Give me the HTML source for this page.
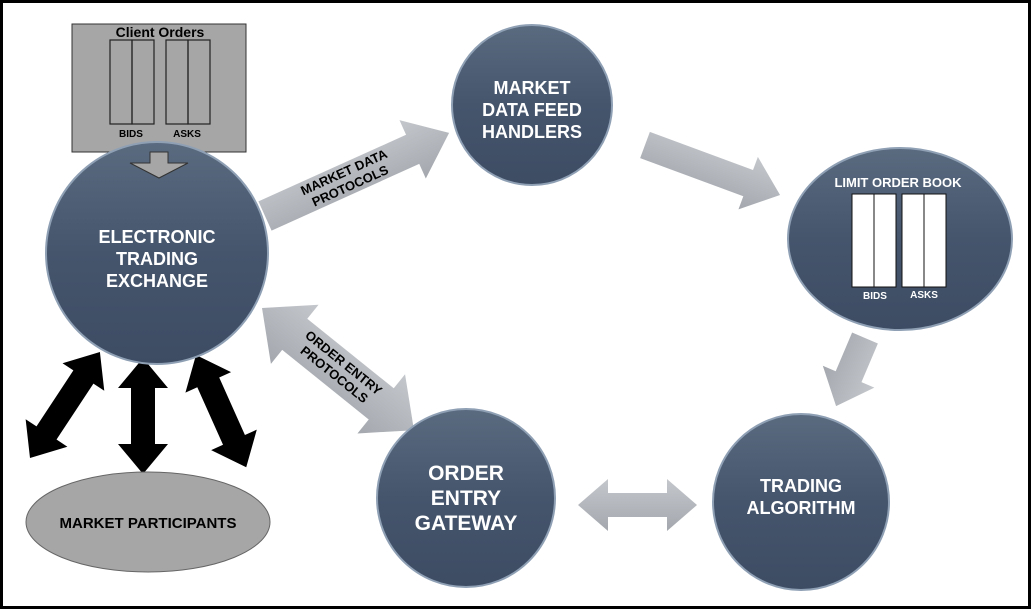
<!DOCTYPE html>
<html><head><meta charset="utf-8"><style>
html,body{margin:0;padding:0;background:#fff;}
svg{display:block;}
text{font-family:"Liberation Sans",sans-serif;font-weight:bold;}
</style></head><body>
<svg width="1035" height="612" viewBox="0 0 1035 612" xmlns="http://www.w3.org/2000/svg">
<defs>
<linearGradient id="cg" x1="0" y1="0" x2="0" y2="1">
<stop offset="0" stop-color="#5a6b80"/><stop offset="0.5" stop-color="#45556c"/><stop offset="1" stop-color="#3d4c63"/>
</linearGradient>
<linearGradient id="ag" x1="0" y1="0" x2="0" y2="1">
<stop offset="0" stop-color="#c4c7cc"/><stop offset="1" stop-color="#a4a8ae"/>
</linearGradient>
</defs>
<rect x="1.5" y="1.5" width="1028" height="606" fill="#fff" stroke="#000" stroke-width="3"/>

<!-- Client orders -->
<rect x="72" y="24" width="174" height="128" fill="#a6a6a6" stroke="#333" stroke-width="1"/>
<text x="160" y="37" font-size="14" text-anchor="middle" fill="#000">Client Orders</text>
<rect x="110" y="40" width="22" height="84" fill="none" stroke="#222" stroke-width="1.2"/>
<rect x="132" y="40" width="22" height="84" fill="none" stroke="#222" stroke-width="1.2"/>
<rect x="166" y="40" width="22" height="84" fill="none" stroke="#222" stroke-width="1.2"/>
<rect x="188" y="40" width="22" height="84" fill="none" stroke="#222" stroke-width="1.2"/>
<text x="131" y="137" font-size="10" text-anchor="middle">BIDS</text>
<text x="187" y="137" font-size="10" text-anchor="middle">ASKS</text>

<!-- Gray arrows -->
<g transform="translate(265,216) rotate(-24.3)"><path d="M0,-16 L162,-16 L162,-32 L202,0 L162,32 L162,16 L0,16 Z" fill="url(#ag)"/>
<text x="90" y="-3" font-size="13" text-anchor="middle">MARKET DATA</text>
<text x="90" y="12" font-size="13" text-anchor="middle">PROTOCOLS</text></g>
<g transform="translate(645,145) rotate(20.3)"><path d="M0,-14 L110,-14 L110,-28 L144,0 L110,28 L110,14 L0,14 Z" fill="url(#ag)"/></g>
<g transform="translate(865,338) rotate(113)"><path d="M0,-14 L42,-14 L42,-28 L74,0 L42,28 L42,14 L0,14 Z" fill="url(#ag)"/></g>
<g transform="translate(578,505)"><path d="M0,0 L30,-26 L30,-12 L89,-12 L89,-26 L119,0 L89,26 L89,12 L30,12 L30,26 Z" fill="url(#ag)"/></g>
<g transform="translate(262,308) rotate(38.8)"><path d="M0,0 L42,-38 L42,-20 L153,-20 L153,-38 L195,0 L153,38 L153,20 L42,20 L42,38 Z" fill="url(#ag)"/>
<text x="98" y="-4" font-size="13" text-anchor="middle">ORDER ENTRY</text>
<text x="98" y="11" font-size="13" text-anchor="middle">PROTOCOLS</text></g>

<!-- Black arrows -->
<g transform="translate(30,458) rotate(-56.6)"><path d="M0,0 L30,-25 L30,-12 L97,-12 L97,-25 L127,0 L97,25 L97,12 L30,12 L30,25 Z" fill="#000"/></g>
<g transform="translate(143,358) rotate(90)"><path d="M0,0 L30,-25 L30,-12 L86,-12 L86,-25 L116,0 L86,25 L86,12 L30,12 L30,25 Z" fill="#000"/></g>
<g transform="translate(196,355) rotate(65.9)"><path d="M0,0 L30,-25 L30,-12 L93,-12 L93,-25 L123,0 L93,25 L93,12 L30,12 L30,25 Z" fill="#000"/></g>

<!-- Circles -->
<circle cx="157" cy="253" r="111" fill="url(#cg)" stroke="#8fa0b5" stroke-width="2"/>
<text fill="#fff" font-size="18" text-anchor="middle"><tspan x="157" y="243">ELECTRONIC</tspan><tspan x="157" y="265">TRADING</tspan><tspan x="157" y="287">EXCHANGE</tspan></text>
<path d="M150,152 L168,152 L168,163 L188,163 L159,178 L130,163 L150,163 Z" fill="#a6a6a6" stroke="#333" stroke-width="1"/>

<circle cx="532" cy="105" r="80" fill="url(#cg)" stroke="#8fa0b5" stroke-width="2"/>
<text fill="#fff" font-size="18" text-anchor="middle"><tspan x="532" y="94">MARKET</tspan><tspan x="532" y="116">DATA FEED</tspan><tspan x="532" y="138">HANDLERS</tspan></text>

<ellipse cx="900" cy="239" rx="112" ry="91" fill="url(#cg)" stroke="#8fa0b5" stroke-width="2"/>
<text x="898" y="187" fill="#fff" font-size="13" text-anchor="middle">LIMIT ORDER BOOK</text>
<rect x="852" y="194" width="22" height="93" fill="#fff" stroke="#111" stroke-width="1"/>
<rect x="874" y="194" width="22" height="93" fill="#fff" stroke="#111" stroke-width="1"/>
<rect x="902" y="194" width="22" height="93" fill="#fff" stroke="#111" stroke-width="1"/>
<rect x="924" y="194" width="22" height="93" fill="#fff" stroke="#111" stroke-width="1"/>
<text x="875" y="299" fill="#fff" font-size="10" text-anchor="middle">BIDS</text>
<text x="924" y="298" fill="#fff" font-size="10" text-anchor="middle">ASKS</text>

<circle cx="801" cy="502" r="88" fill="url(#cg)" stroke="#8fa0b5" stroke-width="2"/>
<text fill="#fff" font-size="18" text-anchor="middle"><tspan x="801" y="492">TRADING</tspan><tspan x="801" y="514">ALGORITHM</tspan></text>

<circle cx="466" cy="498" r="89" fill="url(#cg)" stroke="#8fa0b5" stroke-width="2"/>
<text fill="#fff" font-size="21" text-anchor="middle"><tspan x="466" y="480">ORDER</tspan><tspan x="466" y="505">ENTRY</tspan><tspan x="466" y="530">GATEWAY</tspan></text>

<ellipse cx="148" cy="522" rx="122" ry="50" fill="#a6a6a6" stroke="#666" stroke-width="1"/>
<text x="148" y="528" font-size="15" text-anchor="middle">MARKET PARTICIPANTS</text>
</svg>
</body></html>
